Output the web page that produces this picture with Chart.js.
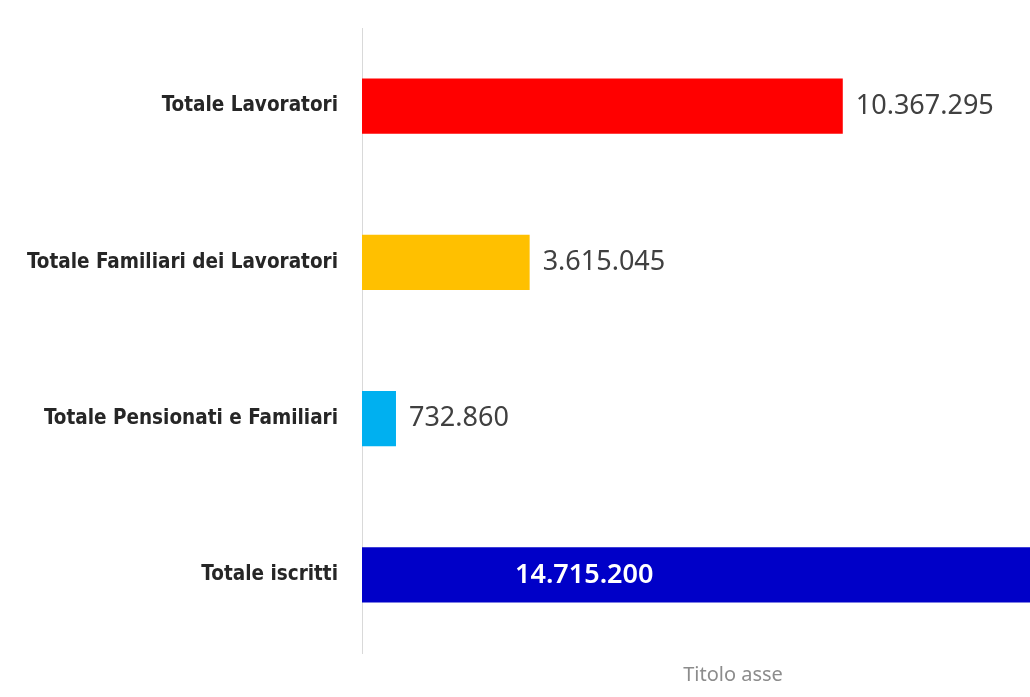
<!DOCTYPE html>
<html>
<head>
<meta charset="utf-8">
<script src="https://cdn.jsdelivr.net/npm/chart.js@4/dist/chart.umd.min.js"></script>
<style>
  html, body { margin: 0; padding: 0; background: #fff; overflow: hidden; }
  #wrap { width: 1110px; height: 697px; }
  #iscritti { filter: blur(0.7px); }
</style>
</head>
<body>
<div id="wrap"><canvas id="iscritti" width="1110" height="697"></canvas></div>
<script>
// Iscritti per tipologia
const categorie = ['Totale Lavoratori', 'Totale Familiari dei Lavoratori', 'Totale Pensionati e Familiari', 'Totale iscritti'];
const valori = [10367295, 3615045, 732860, 14715200];
const colori = ['#ff0000', '#ffc000', '#00b0f0', '#0000c8'];
const titoloAsse = 'Titolo asse';

function formatta(n) {
    return String(n).replace(/\B(?=(\d{3})+(?!\d))/g, '.');
}

// etichette dei valori: fuori dalla barra, oppure bianche dentro la barra lunga
const etichette = {
    id: 'etichette',
    afterDatasetsDraw(chart) {
        const ctx = chart.ctx;
        const meta = chart.getDatasetMeta(0);
        ctx.save();
        ctx.textBaseline = 'middle';
        ctx.textAlign = 'left';
        meta.data.forEach((bar, i) => {
            const v = chart.data.datasets[0].data[i];
            if (v > 12000000) {
                ctx.fillStyle = '#ffffff';
                ctx.font = '600 27px "Noto Sans", sans-serif';
                ctx.fillText(formatta(v), bar.base + 153, bar.y);
            } else {
                ctx.fillStyle = '#404040';
                ctx.font = '27px "Noto Sans", sans-serif';
                ctx.fillText(formatta(v), bar.x + 13, bar.y);
            }
        });
        ctx.restore();
    }
};

new Chart(document.getElementById('iscritti'), {
    type: 'bar',
    data: {
        labels: categorie,
        datasets: [{
            data: valori,
            backgroundColor: colori,
            categoryPercentage: 1,
            barPercentage: 0.355
        }]
    },
    options: {
        indexAxis: 'y',
        responsive: false,
        animation: false,
        layout: { padding: { top: 28, right: 6, bottom: 0, left: 0 } },
        plugins: {
            legend: { display: false },
            tooltip: { enabled: false }
        },
        scales: {
            x: {
                min: 0,
                max: 16000000,
                grid: { display: false, drawTicks: false },
                border: { display: false },
                ticks: { display: false },
                title: {
                    display: true,
                    text: titoloAsse,
                    color: '#8c8c8c',
                    font: { family: '"Noto Sans", sans-serif', size: 20 },
                    padding: { top: 0, bottom: 10 }
                },
                afterFit(scale) { scale.height = 44; }
            },
            y: {
                grid: { display: false, drawTicks: false },
                border: { display: true, color: '#d9d9d9', width: 1 },
                ticks: {
                    color: '#262626',
                    padding: 24,
                    font: { family: '"Liberation Sans Narrow", "DejaVu Sans Condensed", sans-serif', size: 20.5, weight: 'bold' }
                },
                afterFit(scale) {
                    scale.width = 362;
                    scale.paddingTop = 0;
                    scale.paddingBottom = 0;
                }
            }
        }
    },
    plugins: [etichette]
});
</script>
</body>
</html>
